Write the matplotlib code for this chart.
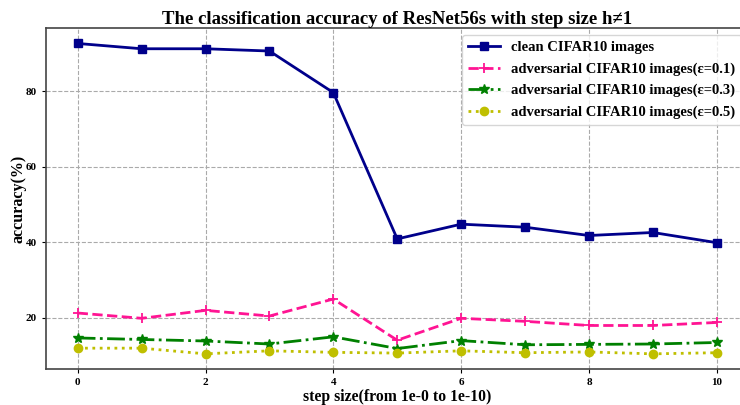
import matplotlib

matplotlib.use("Agg")
import matplotlib.pyplot as plt
import numpy as np

# ── data ────────────────────────────────────────────────────────
steps = np.arange(11)
clean = [92.6, 91.2, 91.2, 90.6, 79.6, 40.9, 44.8, 44.0, 41.8, 42.6, 39.9]
adv_01 = [21.3, 19.9, 22.0, 20.5, 25.0, 14.1, 19.9, 19.1, 18.0, 18.0, 18.8]
adv_03 = [14.7, 14.3, 13.9, 13.1, 15.0, 11.9, 14.0, 12.9, 13.0, 13.1, 13.5]
adv_05 = [12.0, 12.0, 10.5, 11.3, 10.9, 10.7, 11.3, 10.8, 11.0, 10.5, 10.8]

labels = [
    "clean CIFAR10 images",
    "adversarial CIFAR10 images(ε=0.1)",
    "adversarial CIFAR10 images(ε=0.3)",
    "adversarial CIFAR10 images(ε=0.5)",
]

plt.rcParams["font.family"] = ["Liberation Serif", "DejaVu Serif"]
plt.rcParams["font.weight"] = "bold"

fig = plt.figure(figsize=(7.4, 4.05), dpi=100)
ax = fig.add_axes([0.0618, 0.088, 0.950, 0.843])

ax.plot(steps, clean, color="#00008B", linestyle="-", linewidth=2,
        marker="s", markersize=6, label=labels[0])
ax.plot(steps, adv_01, color="#FF1493", linestyle="--", linewidth=2,
        marker="+", markersize=7, markeredgewidth=1.3, label=labels[1])
ax.plot(steps, adv_03, color="green", linestyle="-.", linewidth=2,
        marker="*", markersize=7, label=labels[2])
ax.plot(steps, adv_05, color="#BFBF00", linestyle=":", linewidth=2,
        marker="o", markersize=6, label=labels[3])

ax.set_title("The classification accuracy of ResNet56s with step size h≠1",
             fontsize=13.5, fontweight="bold", pad=3)
ax.set_xlabel("step size(from 1e-0 to 1e-10)", fontsize=11.3,
              fontweight="bold", labelpad=1)
ax.set_ylabel("accuracy(%)", fontsize=11.5, fontweight="bold", labelpad=-1)

ax.set_xticks([0, 2, 4, 6, 8, 10])
ax.set_yticks([20, 40, 60, 80])
ax.tick_params(labelsize=8, length=3)
for t in ax.get_xticklabels() + ax.get_yticklabels():
    t.set_fontweight("bold")

ax.grid(True, color="#aaaaaa", linestyle="--", linewidth=0.8)
for s in ax.spines.values():
    s.set_color("#444444")
    s.set_linewidth(1.2)

ax.legend(loc="upper right", prop={"weight": "bold", "size": 10.5},
          handlelength=2.2, labelspacing=0.55)

plt.savefig("out.png", dpi=100)
plt.close()
